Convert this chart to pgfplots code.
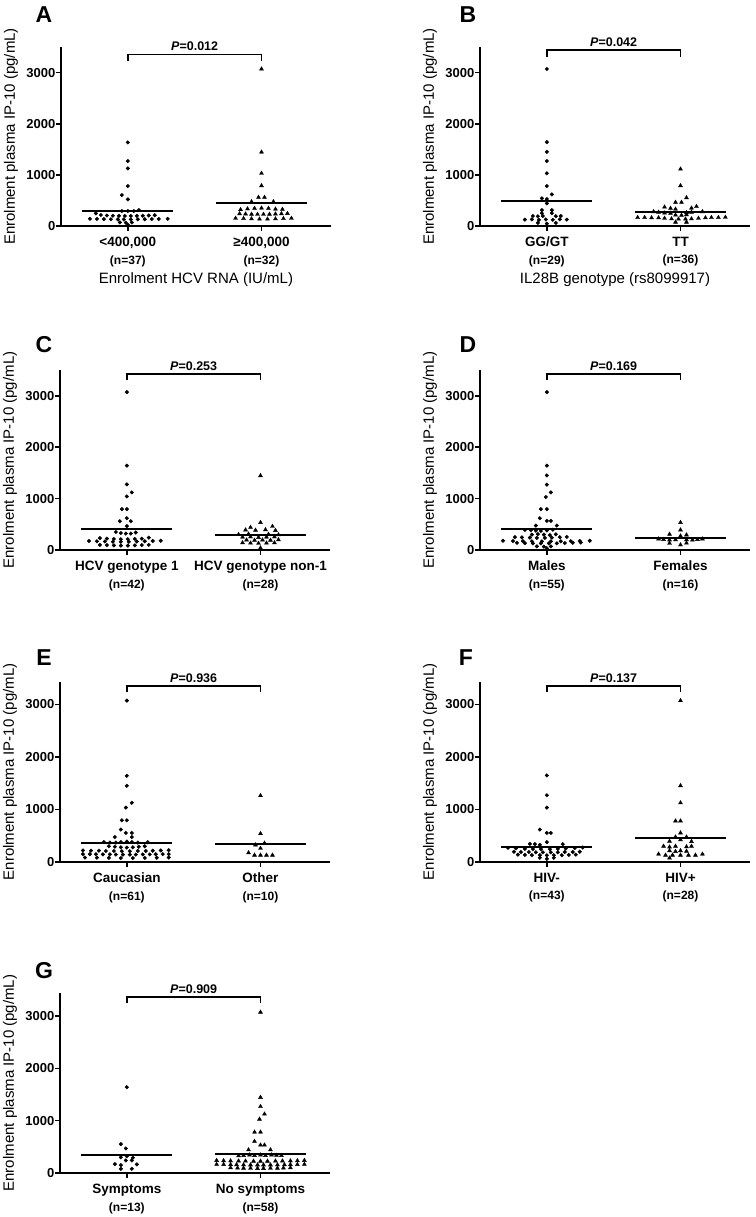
\documentclass[border=0pt]{standalone}
\usepackage{fontspec}
\setmainfont{Liberation Sans}
\usepackage{pgfplots}
\pgfplotsset{compat=1.18}

\newcommand{\nfont}{\fontsize{12}{17.5}\selectfont}

\pgfplotsset{
  dotplot/.style={
    scale only axis, width=270pt,
    xmin=0.5, xmax=2.52, ymin=0,
    axis x line=bottom, axis y line=left,
    axis line style={line width=2.2pt, -},
    x axis line style={line width=2.2pt, -},
    y axis line style={line width=2.2pt, -},
    every outer x axis line/.append style={line width=2.2pt, -},
    every outer y axis line/.append style={line width=2.2pt, -},
    xtick={1,2}, ytick={0,1000,2000,3000},
    yticklabels={0,1000,2000,3000},
    scaled y ticks=false,
    tick align=outside, major tick length=5pt,
    tick style={line width=1.6pt, black},
    major tick style={line width=1.6pt, black},
    clip=false,
    yticklabel style={font=\bfseries\fontsize{13}{15}\selectfont, inner sep=0.5pt},
    xticklabel style={font=\bfseries\fontsize{13.5}{17.5}\selectfont, align=center,
      inner sep=0pt, anchor=north, yshift=-6pt},
    ylabel={Enrolment plasma IP-10 (pg/mL)},
    ylabel style={font=\fontsize{15}{18}\selectfont,
      at={(axis description cs:-0.185,0.5)}, anchor=center},
    xlabel style={font=\fontsize{15}{18}\selectfont,
      at={(axis description cs:0.5,0)}, anchor=center, yshift=-54pt},
  },
  circ/.style={only marks, mark=*, mark size=1.8pt, black},
  tri/.style={only marks, mark=triangle*, mark size=2.3pt, black},
  mline/.style={black, line width=1.9pt, no marks},
  brk/.style={black, line width=1.5pt, no marks},
}
\tikzset{
  ptext/.style={anchor=south, inner sep=0pt, yshift=3.5pt,
    font=\bfseries\fontsize{12.5}{14}\selectfont},
  letter/.style={font=\bfseries\fontsize{23}{26}\selectfont, inner sep=0pt},
}

\begin{document}
\begin{tikzpicture}

% ---------------- A ----------------
\begin{axis}[dotplot, at={(61pt,-226pt)}, anchor=south west, height=179pt, ymax=3500,
  xticklabels={{<400,000\\{\nfont (n=37)}},{≥400,000\\{\nfont (n=32)}}},
  xlabel={Enrolment HCV RNA (IU/mL)}]
\addplot[circ] table[row sep=\\, x expr=1+\thisrow{d}/134, y=v]{
d v\\ 0 1634\\ 0 1270\\ 0 1126\\ 0 781\\ -6 605\\ 0 521\\ -6 293\\ 0 293\\ 6 293\\ 11 312\\
-32 247\\ -27 215\\ -21 205\\ -15 200\\ -9 198\\ -3 196\\ 3 196\\ 9 198\\ 15 200\\ 21 205\\ 27 210\\
-38 140\\ -31 138\\ -24 135\\ -17 132\\ -10 130\\ -4 128\\ 3 128\\ 10 130\\ 17 132\\ 24 135\\ 31 138\\ 40 140\\
-8 70\\ -2 65\\ 4 70\\ 0 22\\
};
\addplot[tri] table[row sep=\\, x expr=2+\thisrow{d}/134, y=v]{
d v\\ 0 3070\\ 0 1445\\ 0 1030\\ 0 788\\ -3 560\\ 3 560\\ -10 475\\ 12 475\\
-21 320\\ -14 335\\ -7 345\\ 0 350\\ 7 345\\ 14 330\\ 21 325\\
-22 240\\ -16 235\\ -10 230\\ -4 228\\ 2 228\\ 8 230\\ 14 235\\ 20 240\\ 26 245\\
-26 150\\ -18 145\\ -10 140\\ -2 135\\ 6 135\\ 14 140\\ 22 145\\ 30 150\\
};
\addplot[mline] coordinates {(0.66,293) (1.34,293)};
\addplot[mline] coordinates {(1.66,449) (2.34,449)};
\addplot[brk] coordinates {(1,3221) (1,3351) (2,3351) (2,3221)};
\node[ptext] at (axis cs:1.5,3351) {\textit{P}=0.012};
\end{axis}

% ---------------- B ----------------
\begin{axis}[dotplot, at={(480pt,-226pt)}, anchor=south west, height=179pt, ymax=3500,
  xticklabels={{GG/GT\\{\nfont (n=29)}},{TT\\{\nfont (n=36)}}},
  xlabel={IL28B genotype (rs8099917)}]
\addplot[circ] table[row sep=\\, x expr=1+\thisrow{d}/134, y=v]{
d v\\ 0 3070\\ 0 1640\\ 0 1450\\ 0 1270\\ 0 1030\\ 0 781\\ 5 618\\ -5 540\\ 0 527\\ 0 443\\
-5 310\\ 5 310\\ -5 250\\ 5 250\\ -14 195\\ -9 190\\ -4 195\\ 9 192\\ 14 195\\
-22 125\\ -15 130\\ -8 120\\ -1 128\\ 6 122\\ 13 130\\ 20 125\\ -9 60\\ 0 45\\ 9 60\\
};
\addplot[tri] table[row sep=\\, x expr=2+\thisrow{d}/134, y=v]{
d v\\ 0 1113\\ 0 788\\ 6 553\\ -5 462\\ 1 462\\
-16 370\\ -10 345\\ -5 330\\ 11 350\\ 16 380\\
-27 280\\ -22 270\\ -16 255\\ -10 250\\ 6 260\\ 11 270\\ 22 280\\
-5 215\\ 1 210\\ 6 220\\
-43 165\\ -36 165\\ -29 160\\ -22 160\\ -16 150\\ -9 140\\ -2 135\\ 5 135\\ 11 140\\ 18 150\\ 25 160\\ 31 165\\ 38 165\\ 45 170\\
-5 75\\ 6 75\\
};
\addplot[mline] coordinates {(0.66,495) (1.34,495)};
\addplot[mline] coordinates {(1.66,267) (2.34,267)};
\addplot[brk] coordinates {(1,3300) (1,3437) (2,3437) (2,3300)};
\node[ptext] at (axis cs:1.5,3437) {\textit{P}=0.042};
\end{axis}

% ---------------- C ----------------
\begin{axis}[dotplot, at={(60pt,-550pt)}, anchor=south west, height=180pt, ymax=3500,
  xticklabels={{HCV genotype 1\\{\nfont (n=42)}},{HCV genotype non-1\\{\nfont (n=28)}}}]
\addplot[circ] table[row sep=\\, x expr=1+\thisrow{d}/134, y=v]{
d v\\ 0 3070\\ 0 1640\\ 0 1276\\ 5 1120\\ 0 1042\\ -5 795\\ 0 795\\ 0 619\\ -7 560\\ 4 560\\ 0 465\\
-11 350\\ -6 330\\ -1 320\\ 4 320\\ 9 340\\
-27 230\\ -20 220\\ -13 215\\ -6 210\\ 1 210\\ 8 215\\ 15 220\\ 22 240\\
-38 175\\ -30 170\\ -22 165\\ -14 160\\ -6 160\\ 2 160\\ 10 165\\ 18 170\\ 26 175\\ 34 180\\
-27 100\\ -20 95\\ -13 90\\ -6 85\\ 1 85\\ 8 90\\ 15 95\\ 22 100\\
};
\addplot[tri] table[row sep=\\, x expr=2+\thisrow{d}/134, y=v]{
d v\\ 0 1445\\ 0 534\\ -10 440\\ 12 460\\
-15 390\\ -5 385\\ 5 395\\ 15 380\\
-22 300\\ -12 310\\ 8 305\\ 18 295\\
-18 250\\ -10 255\\ -2 245\\ 6 250\\ 14 255\\
-14 195\\ -6 190\\ 2 195\\ 10 190\\ 18 200\\
-18 140\\ -10 135\\ -2 130\\ 6 135\\ 14 140\\ 0 40\\
};
\addplot[mline] coordinates {(0.66,415) (1.34,415)};
\addplot[mline] coordinates {(1.66,293) (2.34,293)};
\addplot[brk] coordinates {(1,3305) (1,3422) (2,3422) (2,3305)};
\node[ptext] at (axis cs:1.5,3422) {\textit{P}=0.253};
\end{axis}

% ---------------- D ----------------
\begin{axis}[dotplot, at={(480pt,-550pt)}, anchor=south west, height=180pt, ymax=3500,
  xticklabels={{Males\\{\nfont (n=55)}},{Females\\{\nfont (n=16)}}}]
\addplot[circ] table[row sep=\\, x expr=1+\thisrow{d}/134, y=v]{
d v\\ 0 3070\\ 0 1640\\ 0 1450\\ 0 1270\\ 4 1120\\ -1 1030\\ -6 794\\ 0 794\\ -7 618\\ 0 566\\ 4 566\\ -11 475\\ 10 475\\
-22 390\\ -16 385\\ -11 375\\ -6 370\\ 0 380\\ 6 395\\
-15 300\\ -9 310\\ -3 300\\ 3 290\\ 9 305\\
-32 250\\ -25 245\\ -17 240\\ -10 235\\ -2 235\\ 5 240\\ 13 250\\ 20 255\\
-44 180\\ -34 175\\ -24 172\\ -15 170\\ -5 168\\ 4 168\\ 14 170\\ 24 172\\ 33 175\\ 43 180\\
-30 140\\ -22 135\\ -14 130\\ -6 130\\ 2 130\\ 10 130\\ 18 135\\ 26 140\\ 34 145\\
-10 70\\ -3 65\\ 4 70\\ 0 35\\
};
\addplot[tri] table[row sep=\\, x expr=2+\thisrow{d}/134, y=v]{
d v\\ 0 534\\ 0 390\\ -11 306\\ 0 273\\ 6 293\\
-22 215\\ -17 205\\ -11 195\\ -5 200\\ 6 200\\ 12 195\\ 17 205\\ 22 215\\
-11 130\\ 6 135\\ 0 100\\
};
\addplot[mline] coordinates {(0.66,404) (1.34,404)};
\addplot[mline] coordinates {(1.66,228) (2.34,228)};
\addplot[brk] coordinates {(1,3305) (1,3422) (2,3422) (2,3305)};
\node[ptext] at (axis cs:1.5,3422) {\textit{P}=0.169};
\end{axis}

% ---------------- E ----------------
\begin{axis}[dotplot, at={(60pt,-862pt)}, anchor=south west, height=180.3pt, ymax=3430,
  xticklabels={{Caucasian\\{\nfont (n=61)}},{Other\\{\nfont (n=10)}}}]
\addplot[circ] table[row sep=\\, x expr=1+\thisrow{d}/134, y=v]{
d v\\ 0 3070\\ 0 1640\\ 0 1450\\ 5 1126\\ -1 1035\\ -5 794\\ 0 794\\ -6 618\\ -1 553\\ 5 553\\ -12 475\\ 5 475\\
-23 380\\ -17 370\\ -11 370\\ -6 380\\ 0 390\\ 5 380\\ 11 370\\ 21 375\\
-18 300\\ -12 290\\ -6 280\\ 0 275\\ 6 280\\ 12 290\\ 18 300\\
-44 220\\ -36 215\\ -28 215\\ -21 210\\ -13 210\\ -5 205\\ 3 205\\ 11 210\\ 19 210\\ 26 215\\ 34 220\\ 42 225\\
-44 150\\ -37 150\\ -31 148\\ -24 145\\ -17 145\\ -11 142\\ -4 140\\ 3 140\\ 9 142\\ 16 145\\ 23 145\\ 29 148\\ 36 150\\ 42 150\\
-42 85\\ -30 82\\ -18 78\\ -6 75\\ 6 75\\ 18 78\\ 30 82\\ 42 85\\
};
\addplot[tri] table[row sep=\\, x expr=2+\thisrow{d}/134, y=v]{
d v\\ 0 1263\\ 0 540\\ 4 358\\ -5 325\\ 0 260\\ -12 176\\ -6 130\\ 0 130\\ 6 130\\ 12 130\\
};
\addplot[mline] coordinates {(0.66,358) (1.34,358)};
\addplot[mline] coordinates {(1.66,350) (2.34,350)};
\addplot[brk] coordinates {(1,3234) (1,3348) (2,3348) (2,3234)};
\node[ptext] at (axis cs:1.5,3348) {\textit{P}=0.936};
\end{axis}

% ---------------- F ----------------
\begin{axis}[dotplot, at={(480pt,-862pt)}, anchor=south west, height=180.3pt, ymax=3430,
  xticklabels={{HIV-\\{\nfont (n=43)}},{HIV+\\{\nfont (n=28)}}}]
\addplot[circ] table[row sep=\\, x expr=1+\thisrow{d}/134, y=v]{
d v\\ 0 1647\\ 0 1270\\ 0 1035\\ -7 618\\ 0 553\\ 4 553\\ 0 378\\
-17 345\\ -12 340\\ -7 325\\ 16 340\\
-39 270\\ -31 260\\ -22 250\\ -14 245\\ -6 245\\ 3 245\\ 11 250\\ 19 255\\ 28 265\\ 36 275\\
-33 195\\ -26 190\\ -18 190\\ -11 185\\ -4 185\\ 4 185\\ 11 185\\ 18 190\\ 26 190\\ 33 195\\
-29 140\\ -22 135\\ -15 130\\ -7 130\\ 0 128\\ 7 130\\ 15 130\\ 22 135\\ 29 140\\
-7 80\\ 0 60\\ 7 80\\
};
\addplot[tri] table[row sep=\\, x expr=2+\thisrow{d}/134, y=v]{
d v\\ 0 3070\\ 0 1452\\ 0 1126\\ -5 781\\ 0 781\\ 0 553\\ -5 475\\ 6 475\\
0 423\\ 11 390\\ -11 395\\
-17 300\\ -11 285\\ -5 300\\ 6 290\\ 11 300\\
-11 215\\ -5 200\\ 0 215\\ 6 205\\
-22 150\\ -15 130\\ -8 130\\ 0 130\\ 8 130\\ 15 130\\ 22 150\\ -11 75\\
};
\addplot[mline] coordinates {(0.66,293) (1.34,293)};
\addplot[mline] coordinates {(1.66,456) (2.34,456)};
\addplot[brk] coordinates {(1,3234) (1,3348) (2,3348) (2,3234)};
\node[ptext] at (axis cs:1.5,3348) {\textit{P}=0.137};
\end{axis}

% ---------------- G ----------------
\begin{axis}[dotplot, at={(60pt,-1173pt)}, anchor=south west, height=180pt, ymax=3440,
  xticklabels={{Symptoms\\{\nfont (n=13)}},{No symptoms\\{\nfont (n=58)}}}]
\addplot[circ] table[row sep=\\, x expr=1+\thisrow{d}/134, y=v]{
d v\\ 0 1640\\ -6 553\\ -1 469\\ -6 300\\ 0 320\\ 6 290\\ -1 240\\ 5 240\\
-12 170\\ -6 150\\ 10 165\\ -6 80\\ 5 80\\
};
\addplot[tri] table[row sep=\\, x expr=2+\thisrow{d}/134, y=v]{
d v\\ 0 3073\\ 0 1445\\ 0 1270\\ 4 1126\\ -1 1029\\ -6 781\\ 0 781\\ -6 605\\ 0 534\\ 4 534\\ -12 443\\ 10 443\\
-22 330\\ -17 335\\ -11 345\\ -6 335\\ 0 345\\ 5 335\\ 11 345\\ 16 340\\ 21 335\\
-44 240\\ -37 235\\ -30 232\\ -22 230\\ -15 228\\ -7 226\\ 0 225\\ 7 226\\ 15 228\\ 22 230\\ 30 232\\ 37 235\\ 44 240\\
-44 165\\ -37 162\\ -30 160\\ -24 158\\ -17 156\\ -10 155\\ -3 155\\ 3 155\\ 10 155\\ 17 156\\ 24 158\\ 30 160\\ 37 162\\ 44 165\\
-30 100\\ -23 95\\ -17 92\\ -10 90\\ -3 88\\ 3 88\\ 10 90\\ 17 92\\ 23 95\\ 30 100\\
};
\addplot[mline] coordinates {(0.66,339) (1.34,339)};
\addplot[mline] coordinates {(1.66,358) (2.34,358)};
\addplot[brk] coordinates {(1,3248) (1,3363) (2,3363) (2,3248)};
\node[ptext] at (axis cs:1.5,3363) {\textit{P}=0.909};
\end{axis}

% panel letters
\node[letter] at (44pt,-15pt) {A};
\node[letter] at (468pt,-15pt) {B};
\node[letter] at (44pt,-345pt) {C};
\node[letter] at (468pt,-345pt) {D};
\node[letter] at (44pt,-658pt) {E};
\node[letter] at (466pt,-658pt) {F};
\node[letter] at (44pt,-971pt) {G};

\pgfresetboundingbox
\path[use as bounding box] (0pt,0pt) rectangle (755pt,-1217pt);
\end{tikzpicture}
\end{document}
